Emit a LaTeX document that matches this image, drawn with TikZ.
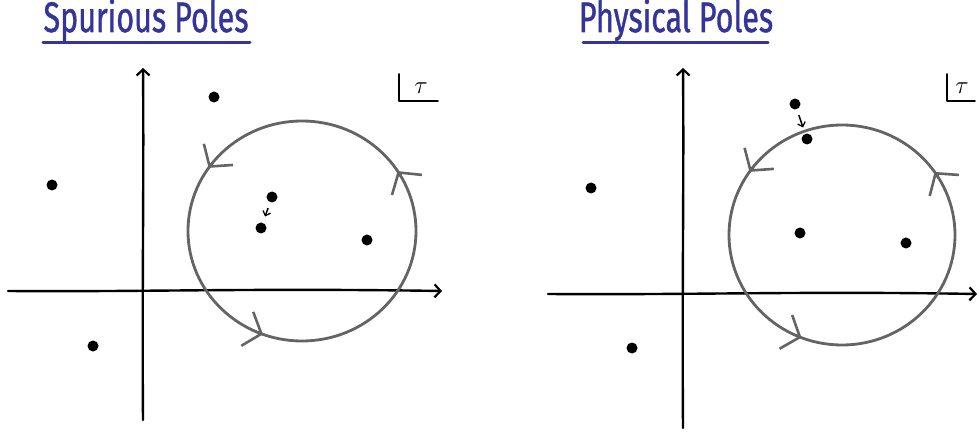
\documentclass[tikz,border=0pt]{standalone}
\usepackage{fontspec}
\setsansfont[FakeBold=1.2]{Fira Sans}
\usetikzlibrary{arrows.meta,calc}
\definecolor{titleblue}{HTML}{34349A}
\definecolor{circgray}{HTML}{646464}
\tikzset{
  axis/.style={line width=2.4pt, black, line cap=round, -{Straight Barb[length=6pt,width=13pt,line width=2.2pt]}},
  contour/.style={line width=2.8pt, circgray},
  chev/.style={line width=2.8pt, circgray, -{Straight Barb[length=15pt,width=36pt,line width=2.6pt]}},
  pole/.style={circle, fill=black, inner sep=0pt, minimum size=11pt},
  title/.style={font=\sffamily\fontsize{30.5}{32}\selectfont, text=titleblue, inner sep=0pt},
  uline/.style={line width=3pt, titleblue, line cap=round},
  move/.style={line width=1.5pt, black, -{Straight Barb[length=4pt,width=8pt,line width=1.3pt]}, shorten <=6pt, shorten >=6.5pt},
  corner/.style={line width=1.8pt, black, line cap=round, line join=round},
  taulab/.style={inner sep=0pt, font=\fontsize{28}{30}\selectfont},
}
\begin{document}
\begin{tikzpicture}[x=1pt,y=1pt]
\useasboundingbox (0,0) rectangle (979,434);
% ---------------- left panel ----------------
\node[title, anchor=base] (t1) at (146,402) {\scalebox{1}[1.4]{Spurious Poles}};
\draw[uline] (43,391) -- (250,391);
\coordinate (h1s) at (8,143);
\coordinate (h1e) at (442,143);
\coordinate (v1s) at (143,14);
\coordinate (v1e) at (143,366);
\draw[axis] (h1s) .. controls (150,142) and (250,146) .. (h1e);
\draw[axis] (v1s) .. controls (142,150) and (144,250) .. (v1e);
\coordinate (c1) at (302,203);
\draw[contour] (c1) ellipse[x radius=114, y radius=110];
\foreach \a in {142,247,30}
  \draw[chev] ($(c1)+(\a:114 and 110)$) arc[start angle=\a, end angle=\a+3, x radius=114, y radius=110];
\node[pole] (a1) at (214,337) {};
\node[pole] (a2) at (52,249) {};
\node[pole] (a3) at (272,237) {};
\node[pole] (a4) at (261,206) {};
\node[pole] (a5) at (367,194) {};
\node[pole] (a6) at (93,88) {};
\draw[move] (a3) -- (a4);
\coordinate (k1a) at (399,360);
\coordinate (k1b) at (399,333);
\coordinate (k1c) at (438,333);
\draw[corner] (k1a) -- (k1b) -- (k1c);
\node[taulab] (tau1) at (421,346) {$\tau$};
% ---------------- right panel ----------------
\node[title, anchor=base] (t2) at (676,402) {\scalebox{1}[1.4]{Physical Poles}};
\draw[uline] (583,391) -- (768,391);
\coordinate (h2s) at (548,140);
\coordinate (h2e) at (977,140);
\coordinate (v2s) at (683,6);
\coordinate (v2e) at (683,366);
\draw[axis] (h2s) .. controls (700,139) and (800,143) .. (h2e);
\draw[axis] (v2s) .. controls (682,150) and (684,250) .. (v2e);
\coordinate (c2) at (842,199);
\draw[contour] (c2) ellipse[x radius=113, y radius=110];
\foreach \a in {142,246,32}
  \draw[chev] ($(c2)+(\a:113 and 110)$) arc[start angle=\a, end angle=\a+3, x radius=113, y radius=110];
\node[pole] (b1) at (795,330) {};
\node[pole] (b2) at (807,295) {};
\node[pole] (b3) at (591,246) {};
\node[pole] (b4) at (800,201) {};
\node[pole] (b5) at (906,191) {};
\node[pole] (b6) at (632,86) {};
\draw[move] (b1) -- (b2);
\coordinate (k2a) at (947,360);
\coordinate (k2b) at (947,333);
\coordinate (k2c) at (975,333);
\draw[corner] (k2a) -- (k2b) -- (k2c);
\node[taulab] (tau2) at (962,346) {$\tau$};
\end{tikzpicture}
\end{document}
